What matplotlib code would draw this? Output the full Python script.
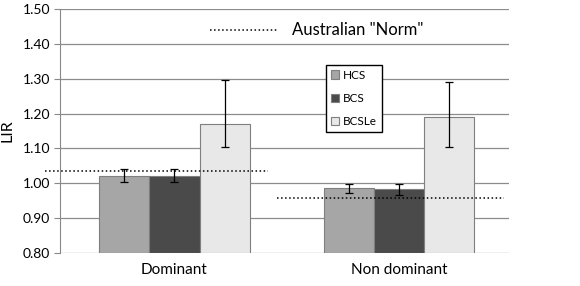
import matplotlib.pyplot as plt
import numpy as np

plt.rcParams['font.family'] = ['Lato', 'DejaVu Sans']

groups = ["Dominant", "Non dominant"]
series = ["HCS", "BCS", "BCSLe"]
colors = ["#a6a6a6", "#4a4a4a", "#e8e8e8"]
values = {
    "HCS": [1.022, 0.986],
    "BCS": [1.022, 0.983],
    "BCSLe": [1.171, 1.190],
}
err_low = {
    "HCS": [0.019, 0.014],
    "BCS": [0.019, 0.017],
    "BCSLe": [0.067, 0.086],
}
err_high = {
    "HCS": [0.018, 0.013],
    "BCS": [0.018, 0.016],
    "BCSLe": [0.125, 0.100],
}
norm = [1.035, 0.958]
yticks = [0.80, 0.90, 1.00, 1.10, 1.20, 1.30, 1.40, 1.50]

fig = plt.figure(figsize=(5.8, 2.86), dpi=100)
ax = fig.add_axes([0.1034, 0.1154, 0.7742, 0.8531])

x = np.arange(len(groups))
w = 0.223
for i, s in enumerate(series):
    ax.bar(x + 0.01 + (i - 1) * w, np.array(values[s]) - 0.8, w, bottom=0.8,
           color=colors[i], edgecolor="#7f7f7f", linewidth=0.8, label=s, zorder=2)
    ax.errorbar(x + 0.01 + (i - 1) * w, values[s], yerr=[err_low[s], err_high[s]],
                fmt="none", ecolor="black", elinewidth=0.9, capsize=3,
                capthick=0.9, zorder=3)

# Australian norm lines
ax.plot([-0.567, 0.4265], [norm[0], norm[0]], ls=":", color="black", lw=1.1,
        clip_on=False, zorder=4)
ax.plot([0.4666, 1.478], [norm[1], norm[1]], ls=":", color="black", lw=1.1,
        clip_on=False, zorder=4)
ax.plot([0.168, 0.4666], [1.44, 1.44], ls=":", color="black", lw=1.1, zorder=4)
ax.text(0.535, 1.44, 'Australian "Norm"', fontsize=12, va="center", ha="left")

ax.set_xlim(-0.5, 1.5)
ax.set_ylim(0.8, 1.5)
ax.set_yticks(yticks)
ax.set_yticklabels(["%.2f" % t for t in yticks], fontsize=10)
ax.set_xticks(x + 0.01)
ax.set_xticklabels(groups, fontsize=11)
ax.tick_params(axis="x", length=0, pad=7)
ax.tick_params(axis="y", length=4, color="#888888", pad=3)
ax.set_ylabel("LIR", fontsize=11.5, labelpad=6)
ax.yaxis.grid(True, color="#8c8c8c", lw=0.9, zorder=0)
ax.set_axisbelow(True)
for sp in ["top", "right", "bottom"]:
    ax.spines[sp].set_visible(False)
ax.spines["left"].set_color("#888888")

leg = ax.legend(loc="upper left", bbox_to_anchor=(0.58, 0.795), fontsize=8.5,
                handlelength=0.7, handleheight=0.7, handletextpad=0.3,
                labelspacing=1.05, borderpad=0.4, fancybox=False,
                framealpha=1, edgecolor="black")
leg.get_frame().set_linewidth(1.0)

fig.savefig("out.png", dpi=100)
